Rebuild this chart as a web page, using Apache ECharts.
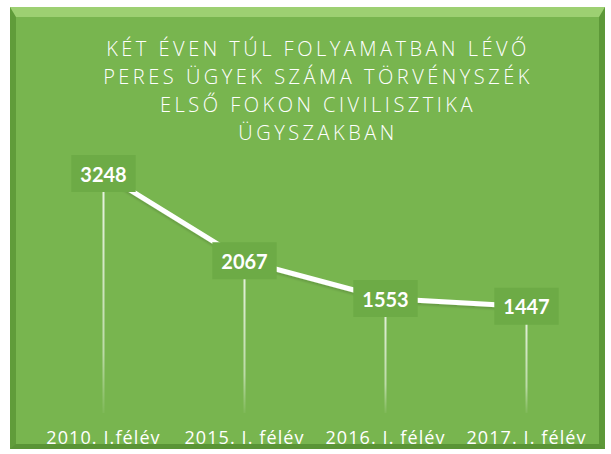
<!DOCTYPE html>
<html>
<head>
    <meta charset="utf-8">
    <title>Peres ügyek</title>
    <script src="https://cdn.jsdelivr.net/npm/echarts@6/dist/echarts.min.js"></script>
    <style>
        body { margin: 0; background: #fff; }
        #wrap { position: relative; width: 611px; height: 454px; }
        #frame {
            position: absolute; left: 10px; top: 7px; width: 583px; height: 427px;
            background: #78b54f;
            border-style: solid;
            border-width: 10px 6px 5px 6px;
            border-top-color: #9dd072;
            border-left-color: #609c3a;
            border-right-color: #5d9838;
            border-bottom-color: #5a9436;
        }
        #main { position: absolute; left: 0; top: 0; width: 611px; height: 454px; }
    </style>
</head>
<body>
<div id="wrap">
    <div id="frame"></div>
    <div id="main"></div>
</div>
<script>
    // adatok
    var titleLines = [
        'KÉT ÉVEN TÚL FOLYAMATBAN LÉVŐ',
        'PERES ÜGYEK SZÁMA TÖRVÉNYSZÉK',
        'ELSŐ FOKON CIVILISZTIKA',
        'ÜGYSZAKBAN'
    ];
    var categories = ['2010. I.félév', '2015. I. félév', '2016. I. félév', '2017. I. félév'];
    var values = [3248, 2067, 1553, 1447];

    var myChart = echarts.init(document.getElementById('main'), null, { renderer: 'svg' });

    var option = {
        animation: false,
        backgroundColor: 'transparent',
        title: {
            text: titleLines.join('\n'),
            left: 313,
            top: 29,
            textAlign: 'center',
            textStyle: {
                color: '#fff',
                fontFamily: 'Open Sans',
                fontWeight: 300,
                fontSize: 20,
                lineHeight: 28
            }
        },
        grid: { left: 33, right: 14, top: 155, bottom: 41 },
        xAxis: {
            type: 'category',
            data: categories,
            axisLine: { show: false },
            axisTick: { show: false },
            axisLabel: {
                color: '#fff',
                fontFamily: 'Open Sans',
                fontSize: 18,
                margin: 15
            }
        },
        yAxis: {
            type: 'value',
            min: 0,
            max: 3500,
            show: false
        },
        series: [
            {
                // függőleges vonalak
                type: 'bar',
                data: values,
                barWidth: 2,
                silent: true,
                itemStyle: {
                    color: new echarts.graphic.LinearGradient(0, 0, 0, 1, [
                        { offset: 0, color: 'rgba(255,255,255,0.85)' },
                        { offset: 0.75, color: 'rgba(255,255,255,0.5)' },
                        { offset: 1, color: 'rgba(255,255,255,0.05)' }
                    ])
                }
            },
            {
                type: 'line',
                data: values,
                symbol: 'circle',
                symbolSize: 2,
                showSymbol: true,
                itemStyle: { color: '#fff' },
                lineStyle: {
                    color: '#fff',
                    width: 5,
                    shadowColor: 'rgba(0,0,0,0.15)',
                    shadowOffsetY: 2,
                    shadowBlur: 2
                },
                label: {
                    show: true,
                    position: 'inside',
                    color: '#fff',
                    fontFamily: 'Lato',
                    fontWeight: 'bold',
                    fontSize: 20,
                    backgroundColor: '#6dab46',
                    padding: [9, 9, 8, 9]
                },
                z: 3
            }
        ]
    };

    // ritkított betűközök a címhez és a tengelyfeliratokhoz
    function spaceLetters() {
        var texts = document.querySelectorAll('#main svg text');
        for (var i = 0; i < texts.length; i++) {
            var s = texts[i].textContent;
            if (titleLines.indexOf(s) >= 0) {
                texts[i].setAttribute('letter-spacing', '3.5');
            } else if (categories.indexOf(s) >= 0) {
                texts[i].setAttribute('letter-spacing', '1.1');
            }
        }
    }

    myChart.on('finished', spaceLetters);
    myChart.setOption(option);
    spaceLetters();
</script>
</body>
</html>
